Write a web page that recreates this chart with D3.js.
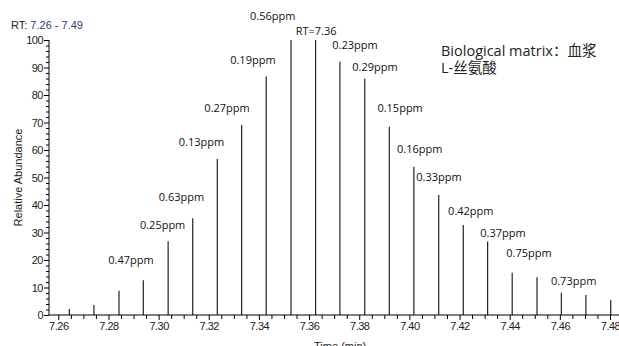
<!DOCTYPE html>
<html><head><meta charset="utf-8">
<script src="https://cdn.jsdelivr.net/npm/d3@7"></script>
<style>
html,body{margin:0;padding:0;background:#fff;overflow:hidden;}
svg{display:block;}
</style></head>
<body>
<svg id="chart" width="619" height="346"></svg>
<script>
// ---- data ----
const peakTimes = [7.2644,7.2742,7.2842,7.2939,7.3038,7.3136,7.3234,7.3331,7.3429,7.3528,7.3626,7.3723,7.3822,7.3920,7.4018,7.4117,7.4215,7.4312,7.4410,7.4509,7.4606,7.4704,7.4803];
const peakValues = [2.2,3.6,8.8,12.6,26.8,35.2,56.7,69.1,86.7,100,100,92.1,85.9,68.5,53.9,43.6,32.7,26.7,15.4,13.7,8.1,7.3,5.5];
const labelTexts = ["0.47ppm","0.25ppm","0.63ppm","0.13ppm","0.27ppm","0.19ppm","0.56ppm","RT=7.36","0.23ppm","0.29ppm","0.15ppm","0.16ppm","0.33ppm","0.42ppm","0.37ppm","0.75ppm","0.73ppm"];
const labelTimes = [7.2890,7.3016,7.3091,7.3171,7.3273,7.3376,7.3455,7.3628,7.3783,7.3863,7.3963,7.4041,7.4118,7.4245,7.4373,7.4477,7.4655];
const labelValues = [20.0,32.7,42.7,62.7,75.2,92.5,108.5,103.4,98.2,90.3,75.2,60.3,50.3,37.8,29.9,22.4,12.4];
const xMajorTicks = [7.26,7.28,7.30,7.32,7.34,7.36,7.38,7.40,7.42,7.44,7.46,7.48];
const xMinorTicks = d3.range(0,45).map(i => +(7.26 + i*0.005).toFixed(3)).filter(v => xMajorTicks.indexOf(v) < 0);
const yMajorTicks = [0,10,20,30,40,50,60,70,80,90,100];
const yMinorTicks = d3.range(0,101,2).filter(v => v % 10 !== 0);
const titleParts = ["RT: ", "7.26 - 7.49"];
const infoLines = ["Biological matrix：血浆", "L-丝氨酸"];

// ---- layout ----
const axisLeft = 49, axisRight = 619, axisBottom = 315, axisTop = 40;
const svg = d3.select("#chart");

const x = d3.scaleLinear().domain([7.26, 7.48]).range([58.3, 610]);
const y = d3.scaleLinear().domain([0, 100]).range([axisBottom, axisTop]);

const tickFont = "Liberation Sans, Arial, sans-serif";
const labFont = "'Open Sans', 'Noto Sans', sans-serif";

// peaks
svg.append("g").selectAll("line").data(peakTimes).join("line")
  .attr("x1", d => x(d)).attr("x2", d => x(d))
  .attr("y1", y(0)).attr("y2", (d,i) => y(peakValues[i]))
  .attr("stroke", "#222").attr("stroke-width", 1.2);

// x axis
const gx = svg.append("g").attr("transform", `translate(0,${axisBottom})`);
gx.append("line").attr("x1", axisLeft).attr("x2", axisRight).attr("y1", 0).attr("y2", 0)
  .attr("stroke", "#000").attr("stroke-width", 1);
const xAxisMaj = d3.axisBottom(x).tickValues(xMajorTicks).tickSize(5).tickPadding(2).tickFormat(d3.format(".2f"));
const gxm = gx.append("g").call(xAxisMaj);
gxm.select(".domain").remove();
gxm.selectAll("text").attr("font-family", tickFont).attr("font-size", 11)
  .attr("letter-spacing", "-0.5px").attr("fill", "#222");
const xAxisMin = d3.axisBottom(x).tickValues(xMinorTicks).tickSize(4).tickFormat("");
const gxn = gx.append("g").call(xAxisMin);
gxn.select(".domain").remove();

// x axis title
svg.append("text").attr("x", (x(7.26)+x(7.48))/2 + 6).attr("y", 350)
  .attr("text-anchor", "middle").attr("font-family", tickFont).attr("font-size", 11).attr("fill", "#222")
  .text("Time (min)");

// y axis
const gy = svg.append("g").attr("transform", `translate(${axisLeft},0)`);
gy.append("line").attr("x1", 0).attr("x2", 0).attr("y1", y(0)).attr("y2", y(100))
  .attr("stroke", "#000").attr("stroke-width", 1);
const yAxisMaj = d3.axisLeft(y).tickValues(yMajorTicks).tickSize(5).tickPadding(1);
const gym = gy.append("g").call(yAxisMaj);
gym.select(".domain").remove();
gym.selectAll("text").attr("font-family", tickFont).attr("font-size", 11)
  .attr("letter-spacing", "-0.5px").attr("fill", "#222");
const yAxisMin = d3.axisLeft(y).tickValues(yMinorTicks).tickSize(3).tickFormat("");
const gyn = gy.append("g").call(yAxisMin);
gyn.select(".domain").remove();

svg.append("text")
  .attr("transform", `translate(22,${(y(0)+y(100))/2}) rotate(-90)`)
  .attr("text-anchor", "middle").attr("font-family", tickFont).attr("font-size", 11).attr("fill", "#222")
  .text("Relative Abundance");

// title
const t = svg.append("text").attr("x", 11).attr("y", 29)
  .attr("font-family", tickFont).attr("font-size", 11);
t.append("tspan").attr("fill", "#222").text(titleParts[0]);
t.append("tspan").attr("fill", "#2b3a80").text(titleParts[1]);

// peak annotations
svg.append("g").selectAll("text").data(labelTexts).join("text")
  .attr("x", (d,i) => x(labelTimes[i]))
  .attr("y", (d,i) => y(labelValues[i]))
  .attr("dy", "0.35em")
  .attr("text-anchor", "middle")
  .attr("font-family", labFont).attr("font-size", 11).attr("fill", "#111")
  .text(d => d);

// info text
svg.append("g").selectAll("text").data(infoLines).join("text")
  .attr("x", 441).attr("y", (d,i) => 56 + i*17)
  .attr("font-family", "'Open Sans', 'Noto Sans CJK SC', sans-serif").attr("font-size", 14.5).attr("fill", "#222")
  .text(d => d);
</script>
</body></html>
